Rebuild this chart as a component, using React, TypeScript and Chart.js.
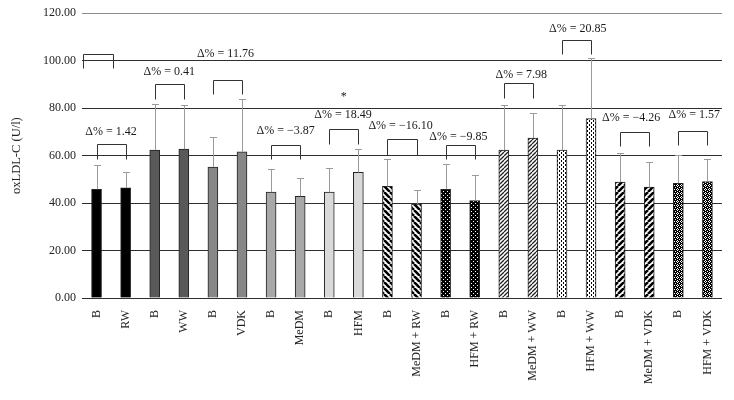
import React, { useEffect, useRef } from 'react';
import { Chart, registerables } from 'chart.js';

Chart.register(...registerables);

// ---- data ----
const categories = [
  'B', 'RW', 'B', 'WW', 'B', 'VDK', 'B', 'MeDM', 'B', 'HFM',
  'B', 'MeDM + RW', 'B', 'HFM + RW', 'B', 'MeDM + WW', 'B', 'HFM + WW',
  'B', 'MeDM + VDK', 'B', 'HFM + VDK',
];
const means = [
  45.8, 46.4, 62.3, 62.7, 55.2, 61.6, 44.6, 42.8, 44.6, 52.9,
  47.0, 39.6, 45.8, 41.1, 62.3, 67.4, 62.3, 75.6, 48.8, 46.7, 48.3, 49.1,
];
const sds = [
  10.3, 6.8, 19.5, 18.7, 12.5, 22.2, 9.9, 7.6, 10.3, 9.8,
  11.4, 5.7, 10.6, 10.8, 19.2, 10.6, 19.2, 25.4, 12.1, 10.8, 11.9, 9.3,
];
const yMin = 0;
const yMax = 120;
const yStep = 20;
const yTitle = 'oxLDL-C (U/l)';

// comparisons (pairs of bars)
const deltaLabels = [
  'Δ% = 1.42', 'Δ% = 0.41', 'Δ% = 11.76', 'Δ% = −3.87', 'Δ% = 18.49', 'Δ% = −16.10',
  'Δ% = −9.85', 'Δ% = 7.98', 'Δ% = 20.85', 'Δ% = −4.26', 'Δ% = 1.57',
];
const pairStart = [0, 2, 4, 6, 8, 10, 12, 14, 16, 18, 20];
const labelY = [70.0, 95.3, 102.7, 70.3, 77.3, 72.4, 67.9, 93.9, 113.6, 76.1, 77.1];
const labelShift = [0, 0, -0.07, 0, -0.03, -0.05, -0.06, 0.1, 0.04, -0.12, 0.05];
const bracketTop = [64.7, 90.0, 91.8, 64.4, 71.0, 66.8, 64.4, 90.4, 108.9, 70.0, 70.3];
const bracketBottom = [58.4, 83.8, 85.9, 58.4, 64.8, 60.2, 58.4, 84.1, 103.0, 64.0, 64.4];
// stray bracket at the top left
const strayBracket = { from: -0.47, to: 0.55, top: 102.7, bottom: 96.8 };
// significance mark
const starMark = { at: 8.5, y: 84.8, text: '*' };

// ---- styles ----
const fillKinds = [
  'black', 'black', 'dark', 'dark', 'mid', 'mid', 'light', 'light', 'pale', 'pale',
  'stripeBack', 'stripeBack', 'dotsBlack', 'dotsBlack', 'fineHatch', 'fineHatch',
  'dotCols', 'dotCols', 'stripeFwd', 'stripeFwd', 'crossBlack', 'crossBlack',
];
const FONT = "'Liberation Serif', 'Times New Roman', serif";

function makeFill(kind: string): any {
  const solid: Record<string, string> = {
    black: '#000000', dark: '#595959', mid: '#878787', light: '#a8a8a8', pale: '#d9d9d9',
  };
  if (solid[kind]) return solid[kind];
  const c = document.createElement('canvas');
  let s = 6;
  if (kind === 'dotsBlack' || kind === 'crossBlack' || kind === 'fineHatch') s = 4;
  if (kind === 'dotCols') s = 4;
  c.width = s; c.height = s;
  const g = c.getContext('2d')!;
  if (kind === 'stripeBack' || kind === 'stripeFwd' || kind === 'fineHatch') {
    g.fillStyle = '#ffffff';
    g.fillRect(0, 0, s, s);
    g.strokeStyle = kind === 'fineHatch' ? '#222222' : '#000000';
    g.lineWidth = kind === 'fineHatch' ? 1.3 : 2.6;
    g.beginPath();
    for (let k = -1; k <= 1; k++) {
      if (kind === 'stripeBack') {
        g.moveTo(k * s, 0); g.lineTo(k * s + s, s);
      } else {
        g.moveTo(k * s, s); g.lineTo(k * s + s, 0);
      }
    }
    g.stroke();
  } else if (kind === 'dotsBlack') {
    g.fillStyle = '#000000';
    g.fillRect(0, 0, s, s);
    g.fillStyle = '#ffffff';
    g.fillRect(1, 1, 1, 1);
    g.fillRect(3, 3, 1, 1);
  } else if (kind === 'crossBlack') {
    g.fillStyle = '#000000';
    g.fillRect(0, 0, s, s);
    g.fillStyle = '#ffffff';
    g.fillRect(1, 0, 1, 1);
    g.fillRect(0, 1, 1, 1);
    g.fillRect(2, 1, 1, 1);
    g.fillRect(1, 2, 1, 1);
    g.fillRect(3, 3, 1, 1);
  } else if (kind === 'dotCols') {
    g.fillStyle = '#ffffff';
    g.fillRect(0, 0, s, s);
    g.fillStyle = '#000000';
    g.fillRect(1, 0, 1, 2);
    g.fillRect(3, 2, 1, 2);
  }
  return g.createPattern(c, 'repeat');
}

const errorBarPlugin = {
  id: 'errorBars',
  afterDatasetsDraw(chart: any) {
    const meta = chart.getDatasetMeta(0);
    const y = chart.scales.y;
    const ctx = chart.ctx;
    ctx.save();
    ctx.strokeStyle = '#9a9a9a';
    ctx.lineWidth = 1;
    meta.data.forEach((el: any, i: number) => {
      const x = Math.round(el.x) + 0.5;
      const yTop = Math.round(y.getPixelForValue(means[i] + sds[i])) + 0.5;
      ctx.beginPath();
      ctx.moveTo(x, el.y);
      ctx.lineTo(x, yTop);
      ctx.moveTo(x - 3.5, yTop);
      ctx.lineTo(x + 3.5, yTop);
      ctx.stroke();
    });
    ctx.restore();
  },
};

function drawBracket(ctx: any, xs: any, ys: any, from: number, to: number, top: number, bottom: number) {
  const x1 = Math.round(xs.getPixelForValue(from)) + 0.5;
  const x2 = Math.round(xs.getPixelForValue(to)) + 0.5;
  const yt = Math.round(ys.getPixelForValue(top)) + 0.5;
  const yb = Math.round(ys.getPixelForValue(bottom)) + 0.5;
  ctx.beginPath();
  ctx.moveTo(x1, yb);
  ctx.lineTo(x1, yt);
  ctx.lineTo(x2, yt);
  ctx.lineTo(x2, yb);
  ctx.stroke();
}

const annotationPlugin = {
  id: 'annotations',
  afterDraw(chart: any) {
    const ctx = chart.ctx;
    const xs = chart.scales.x;
    const ys = chart.scales.y;
    ctx.save();
    ctx.strokeStyle = '#333333';
    ctx.lineWidth = 1;
    ctx.fillStyle = '#1a1a1a';
    ctx.font = `12px ${FONT}`;
    ctx.textAlign = 'center';
    ctx.textBaseline = 'middle';
    deltaLabels.forEach((txt, i) => {
      const a = pairStart[i];
      drawBracket(ctx, xs, ys, a, a + 1, bracketTop[i], bracketBottom[i]);
      ctx.fillText(txt, xs.getPixelForValue(a + 0.5 + labelShift[i]), ys.getPixelForValue(labelY[i]));
    });
    drawBracket(ctx, xs, ys, strayBracket.from, strayBracket.to, strayBracket.top, strayBracket.bottom);
    ctx.fillText(starMark.text, xs.getPixelForValue(starMark.at), ys.getPixelForValue(starMark.y));
    ctx.restore();
  },
};

export default function App() {
  const ref = useRef<HTMLCanvasElement>(null);
  useEffect(() => {
    document.body.style.margin = '0';
    const canvas = ref.current!;
    const fills = fillKinds.map((k) => makeFill(k));
    const chart = new Chart(canvas, {
      type: 'bar',
      data: {
        labels: categories,
        datasets: [
          {
            data: means,
            backgroundColor: fills,
            borderColor: '#222222',
            borderWidth: 1,
            borderSkipped: 'start',
            barThickness: 10,
          },
        ],
      },
      options: {
        responsive: false,
        animation: false,
        devicePixelRatio: 1,
        layout: { padding: { top: 13, right: 8, left: 0, bottom: 0 } },
        plugins: {
          legend: { display: false },
          tooltip: { enabled: false },
          title: { display: false },
        },
        scales: {
          x: {
            type: 'category',
            offset: true,
            grid: { display: false, drawTicks: false },
            border: { display: true, color: '#2e2e2e', width: 1 },
            ticks: {
              autoSkip: false,
              maxRotation: 90,
              minRotation: 90,
              padding: 12,
              color: '#222222',
              font: { family: FONT, size: 12 },
            },
            afterFit: (scale: any) => { scale.height = 102; },
          },
          y: {
            min: yMin,
            max: yMax,
            border: { display: false },
            grid: {
              drawTicks: false,
              lineWidth: 1,
              color: (c: any) => (c.tick && c.tick.value === yMax ? '#8c8c8c' : '#2e2e2e'),
            },
            ticks: {
              stepSize: yStep,
              padding: 6,
              color: '#222222',
              font: { family: FONT, size: 12 },
              callback: (v: any) => Number(v).toFixed(2),
            },
            title: {
              display: true,
              text: yTitle,
              color: '#222222',
              font: { family: FONT, size: 12.5 },
              padding: { top: 9, bottom: 4 },
            },
            afterFit: (scale: any) => { scale.width = 82; },
          },
        },
      },
      plugins: [errorBarPlugin, annotationPlugin],
    });
    return () => chart.destroy();
  }, []);
  return (
    <div style={{ position: 'absolute', left: 0, top: 0, width: 734, height: 400 }}>
      <canvas ref={ref} width={734} height={400} style={{ display: 'block' }} />
    </div>
  );
}
